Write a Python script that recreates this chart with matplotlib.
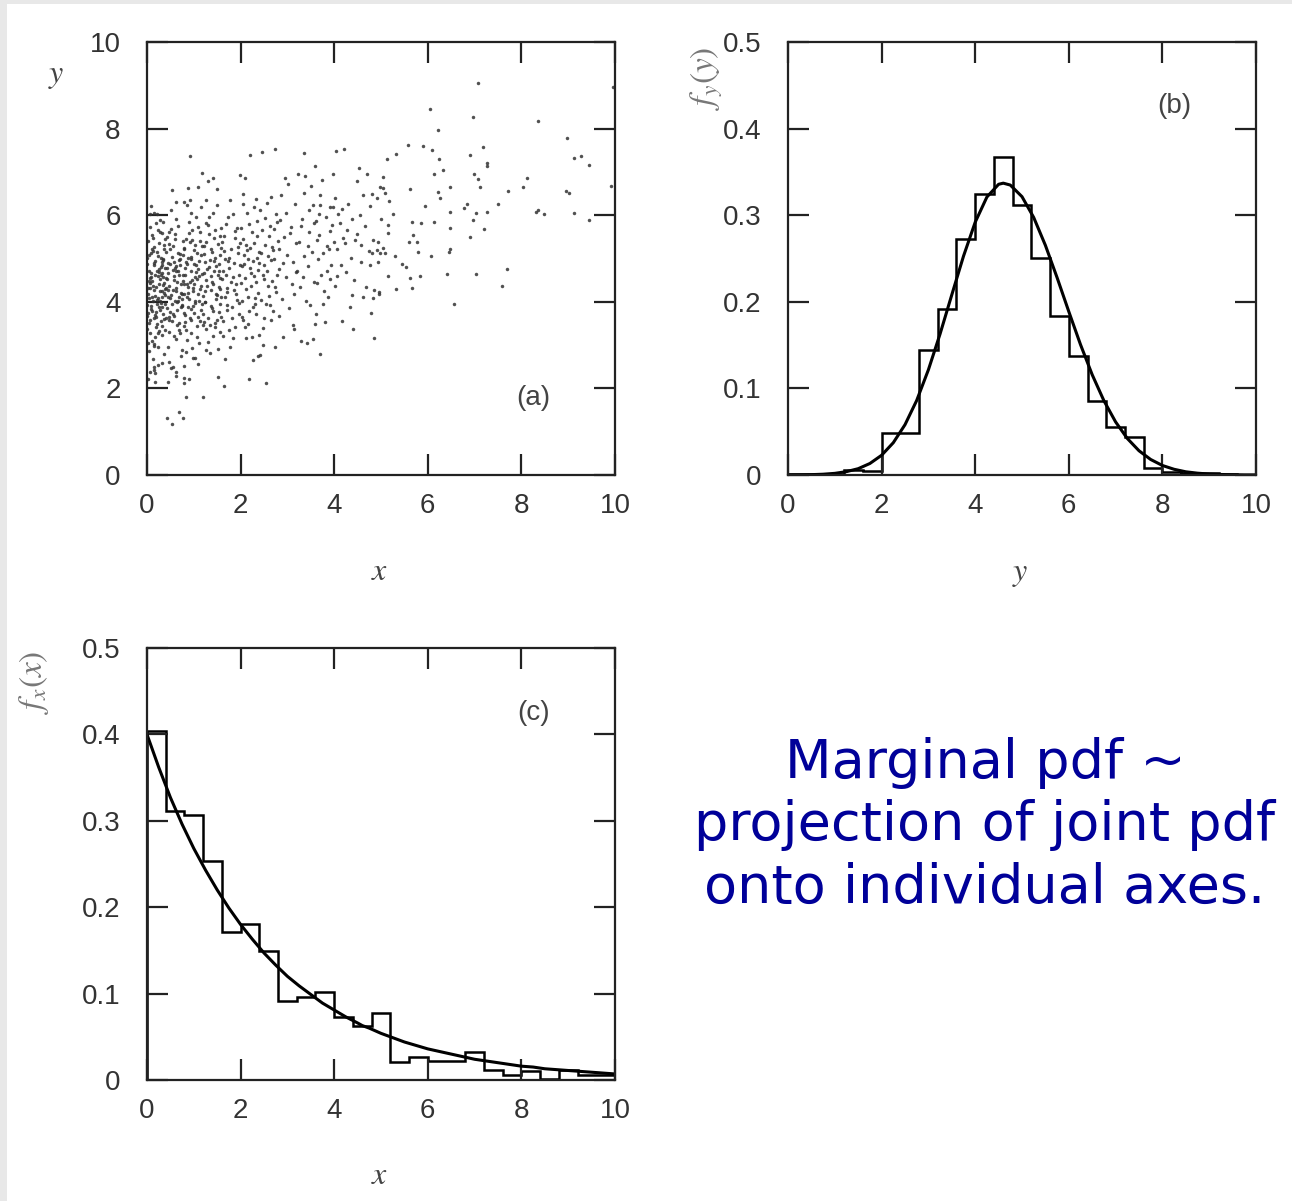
import matplotlib
matplotlib.use("Agg")
import matplotlib.pyplot as plt
from matplotlib.patches import Rectangle

plt.rcParams['font.family'] = ['Liberation Sans', 'DejaVu Sans']
plt.rcParams['mathtext.fontset'] = 'stix'

# ---------------- data ----------------
x_ticks = [0, 2, 4, 6, 8, 10]
x_tick_labels = ['0', '2', '4', '6', '8', '10']
a_y_ticks = [0, 2, 4, 6, 8, 10]
a_y_tick_labels = ['0', '2', '4', '6', '8', '10']
pdf_ticks = [0, 0.1, 0.2, 0.3, 0.4, 0.5]
pdf_tick_labels = ['0', '0.1', '0.2', '0.3', '0.4', '0.5']

hist_edges = [0.0, 0.4, 0.8, 1.2, 1.6, 2.0, 2.4, 2.8, 3.2, 3.6, 4.0, 4.4, 4.8, 5.2,
              5.6, 6.0, 6.4, 6.8, 7.2, 7.6, 8.0, 8.4, 8.8, 9.2, 9.6, 10.0]

fy_hist = [0.001, 0.001, 0.001, 0.006, 0.005, 0.049, 0.049, 0.144, 0.192, 0.272,
           0.324, 0.367, 0.312, 0.250, 0.184, 0.137, 0.085, 0.055, 0.044, 0.008,
           0.003, 0.002, 0.002, 0.001, 0.000]

fx_hist = [0.404, 0.311, 0.307, 0.253, 0.171, 0.181, 0.149, 0.091, 0.096, 0.102,
           0.073, 0.063, 0.078, 0.021, 0.027, 0.022, 0.022, 0.032, 0.012, 0.006,
           0.010, 0.001, 0.011, 0.006, 0.006]

curve_grid = [0.0, 0.25, 0.5, 0.75, 1.0, 1.25, 1.5, 1.75, 2.0, 2.25, 2.5, 2.75, 3.0,
              3.25, 3.5, 3.75, 4.0, 4.25, 4.5, 4.6, 4.75, 5.0, 5.25, 5.5, 5.75, 6.0,
              6.25, 6.5, 6.75, 7.0, 7.25, 7.5, 7.75, 8.0, 8.25, 8.5, 8.75, 9.0,
              9.25, 9.5, 9.75, 10.0]

fy_curve = [0.0001, 0.0002, 0.0004, 0.0009, 0.0019, 0.0039, 0.0073, 0.0133, 0.0228,
            0.0373, 0.0581, 0.0861, 0.1215, 0.163, 0.2081, 0.2527, 0.2919, 0.321,
            0.3357, 0.337, 0.3348, 0.3214, 0.2974, 0.2652, 0.2279, 0.1887, 0.1506,
            0.1158, 0.0858, 0.0613, 0.0422, 0.028, 0.0179, 0.011, 0.0066, 0.0037,
            0.0021, 0.0011, 0.0006, 0.0003, 0.0001, 0.0001]

fx_curve = [0.400, 0.362, 0.327, 0.296, 0.268, 0.243, 0.220, 0.199, 0.180, 0.163,
            0.147, 0.133, 0.120, 0.109, 0.099, 0.089, 0.081, 0.073, 0.066, 0.063,
            0.060, 0.054, 0.049, 0.044, 0.040, 0.036, 0.033, 0.030, 0.027, 0.024,
            0.022, 0.020, 0.018, 0.016, 0.015, 0.013, 0.012, 0.011, 0.010, 0.009,
            0.008, 0.007]

scatter_points = [
    # x in 0 - 0.4
    (0.02,4.31),(0.15,3.62),(0.31,4.85),(0.08,5.12),(0.22,3.95),(0.37,4.44),(0.05,2.86),(0.27,4.02),(0.12,5.48),(0.34,3.71),
    (0.18,4.63),(0.01,3.38),(0.29,5.01),(0.10,4.12),(0.24,3.27),(0.39,4.78),(0.06,4.55),(0.20,5.83),(0.33,3.88),(0.14,4.27),
    (0.03,3.05),(0.26,4.69),(0.36,5.32),(0.09,3.84),(0.17,4.94),(0.32,2.58),(0.04,4.72),(0.21,3.49),(0.38,4.16),(0.11,5.21),
    (0.25,4.40),(0.07,3.57),(0.30,3.98),(0.16,6.05),(0.35,4.58),(0.00,4.88),(0.23,2.95),(0.13,4.36),(0.28,5.61),(0.05,4.08),
    (0.19,3.76),(0.34,4.99),(0.02,5.40),(0.26,3.33),(0.10,4.47),(0.37,3.60),(0.15,2.42),(0.31,4.24),(0.08,3.91),(0.22,5.15),
    (0.01,3.67),(0.29,4.81),(0.12,4.03),(0.39,5.46),(0.18,3.19),(0.06,5.73),(0.24,4.59),(0.33,3.45),(0.14,4.90),(0.03,4.18),
    (0.27,3.82),(0.20,4.34),(0.36,2.79),(0.09,4.66),(0.16,5.27),(0.31,4.11),(0.04,3.52),(0.23,5.05),(0.38,4.29),(0.11,3.10),
    (0.25,4.75),(0.07,4.43),(0.32,5.58),(0.17,3.70),(0.00,3.93),(0.28,4.52),(0.13,2.67),(0.35,4.96),(0.05,5.09),(0.21,4.05),
    (0.19,3.41),(0.30,4.63),(0.02,2.21),(0.26,5.36),(0.10,3.79),(0.37,4.21),(0.15,4.84),(0.08,6.22),(0.33,3.24),(0.22,4.70),
    (0.04,4.49),(0.29,3.56),(0.12,5.17),(0.39,3.96),(0.18,4.14),(0.06,3.29),(0.24,5.66),(0.34,4.38),(0.14,3.02),(0.01,5.00),
    (0.27,4.26),(0.20,3.64),(0.36,5.23),(0.09,4.57),(0.16,2.98),(0.31,4.91),(0.03,3.74),(0.23,4.09),(0.38,3.35),(0.11,5.54),
    (0.25,3.87),(0.07,4.32),(0.32,4.67),
    # x in 0.4 - 0.8
    (0.42,4.52),(0.55,3.71),(0.68,4.96),(0.47,5.33),(0.73,3.88),(0.61,4.25),(0.44,2.95),(0.77,4.61),(0.52,5.68),(0.65,3.47),
    (0.49,4.08),(0.71,5.11),(0.58,3.22),(0.79,4.40),(0.43,4.79),(0.63,5.92),(0.54,3.96),(0.75,4.17),(0.46,3.58),(0.67,4.70),
    (0.59,5.44),(0.41,4.33),(0.72,2.74),(0.50,4.87),(0.64,3.81),(0.78,5.25),(0.45,4.12),(0.57,4.59),(0.69,3.36),(0.53,5.03),
    (0.76,4.48),(0.48,3.65),(0.62,6.31),(0.74,3.93),(0.40,5.16),(0.56,4.28),(0.70,4.84),(0.51,2.48),(0.66,4.03),(0.79,3.74),
    (0.44,4.67),(0.60,5.57),(0.73,4.21),(0.47,3.30),(0.58,4.91),(0.77,5.40),(0.42,3.85),(0.64,4.45),(0.53,6.58),(0.69,3.52),
    (0.55,4.74),(0.75,4.06),(0.49,5.21),(0.62,3.15),(0.41,4.55),(0.71,4.99),(0.57,3.68),(0.67,5.74),(0.46,4.36),(0.78,3.44),
    (0.52,4.15),(0.63,4.82),(0.74,2.88),(0.43,5.49),(0.59,4.02),(0.68,4.63),(0.50,3.77),(0.76,5.07),(0.45,4.27),(0.65,3.99),
    (0.56,5.30),(0.72,4.41),(0.48,2.61),(0.61,4.70),(0.79,4.19),(0.54,3.56),(0.66,5.13),(0.44,4.89),(0.70,3.28),(0.58,4.50),
    (0.51,6.12),(0.75,3.90),(0.63,4.31),(0.47,5.62),(0.69,4.10),(0.41,3.62),(0.60,4.77),
    (0.42,1.31),(0.53,1.17),(0.76,1.31),(0.69,1.46),(0.17,2.14),(0.44,2.15),(0.78,2.13),(0.78,2.23),(0.62,2.29),(0.62,2.37),
    (0.78,2.52),(0.56,2.50),(0.14,2.50),(0.24,2.55),(0.06,2.39),(0.17,2.35),(0.28,5.89),(0.35,5.85),(0.06,6.03),(0.21,6.03),
    # x in 0.8 - 1.2
    (0.83,1.80),(0.90,2.21),(0.92,7.37),(0.88,6.62),(1.08,6.64),(0.99,2.70),(1.03,2.70),(1.17,6.98),(0.80,6.30),(0.86,6.24),
    (0.91,6.36),(1.19,1.79),(0.82,4.63),(0.95,3.84),(1.07,5.12),(0.87,4.21),(1.13,3.56),(1.01,4.88),(0.84,5.46),(1.16,4.37),
    (0.93,3.27),(1.05,4.69),(0.89,5.85),(1.11,4.03),(0.97,4.50),(1.18,5.28),(0.81,3.70),(1.03,3.98),(0.94,5.04),(1.09,4.76),
    (0.86,3.12),(1.14,5.62),(0.99,4.31),(1.06,3.43),(0.83,4.92),(1.19,4.14),(0.92,5.37),(1.02,4.58),(0.88,3.89),(1.12,4.95),
    (0.96,2.94),(1.08,5.73),(0.85,4.40),(1.15,3.81),(1.00,5.19),(0.90,4.07),(1.17,4.64),(0.82,3.53),(1.04,4.85),(0.94,6.06),
    (1.10,3.66),(0.87,5.01),(0.98,4.24),(1.13,5.41),(0.81,4.79),(1.06,3.19),(0.92,4.46),(1.18,3.95),(0.89,5.58),(1.01,3.74),
    (0.95,4.99),(1.14,4.29),(0.84,3.35),(1.07,4.53),(0.97,5.66),(1.11,3.05),(0.86,4.12),(1.03,5.31),(0.91,3.62),(1.16,5.09),
    (0.80,5.22),(1.09,4.17),(0.93,4.71),(1.19,3.47),(0.88,4.34),(1.05,5.95),(0.99,3.91),(1.12,4.60),(0.83,2.84),(1.00,4.41),
    (0.95,3.58),(1.15,6.18),(0.85,4.88),(1.08,2.56),(0.97,5.43),(1.02,4.02),
    # x in 1.2 - 1.6
    (1.30,6.78),(1.40,6.87),(1.49,6.60),(1.27,6.36),(1.49,6.24),(1.27,2.89),(1.35,2.81),(1.52,2.90),(1.51,2.27),(1.22,4.66),
    (1.37,3.91),(1.55,5.08),(1.24,4.25),(1.44,5.47),(1.58,4.12),(1.31,3.63),(1.47,4.83),(1.21,5.29),(1.53,3.77),(1.34,4.97),
    (1.42,4.42),(1.59,5.71),(1.26,3.38),(1.39,5.15),(1.56,4.54),(1.23,3.99),(1.46,3.51),(1.33,5.56),(1.57,4.30),(1.28,4.75),
    (1.41,3.20),(1.54,4.88),(1.25,5.83),(1.48,4.07),(1.36,4.59),(1.20,3.72),(1.51,5.34),(1.38,3.85),(1.45,5.02),(1.29,4.37),
    (1.59,3.66),(1.32,5.95),(1.43,4.71),(1.55,3.30),(1.22,5.10),(1.47,4.18),(1.35,3.46),(1.58,5.24),(1.26,4.51),(1.40,6.06),
    (1.52,4.62),(1.30,3.08),(1.44,4.94),(1.23,4.00),(1.56,5.53),(1.37,4.28),(1.49,3.58),(1.27,5.38),(1.42,3.79),(1.54,4.35),
    (1.33,4.81),(1.21,3.54),(1.46,5.66),(1.39,4.46),(1.57,3.94),(1.24,4.91),(1.50,4.15),(1.31,5.77),(1.45,3.41),(1.36,5.21),
    (1.53,4.72),
    # x in 1.6 - 2.0
    (1.65,2.06),(1.67,2.67),(1.77,2.96),(1.99,6.93),(1.62,4.71),(1.81,3.88),(1.94,5.26),(1.70,4.33),(1.87,5.64),(1.63,3.55),
    (1.76,5.02),(1.91,4.17),(1.68,5.79),(1.84,4.58),(1.97,3.71),(1.73,4.95),(1.61,5.39),(1.89,3.42),(1.79,4.46),(1.95,5.13),
    (1.66,4.10),(1.83,6.02),(1.72,3.80),(1.98,4.84),(1.64,5.52),(1.86,4.28),(1.75,3.34),(1.92,5.70),(1.69,4.62),(1.80,5.21),
    (1.96,3.97),(1.62,3.20),(1.85,4.90),(1.74,5.95),(1.90,4.41),(1.67,4.99),(1.82,3.63),(1.99,5.36),(1.71,4.22),(1.88,5.48),
    (1.60,4.53),(1.78,6.34),(1.93,4.05),(1.65,5.17),(1.84,3.16),(1.76,4.77),(1.97,4.63),(1.70,3.92),
    # x in 2.0 - 2.4
    (2.09,6.85),(2.06,6.49),(2.06,6.27),(2.20,7.40),(2.17,2.22),(2.27,2.66),(2.38,2.75),(2.12,3.16),(2.24,3.18),(2.39,3.23),
    (2.03,4.82),(2.15,4.11),(2.28,5.35),(2.01,5.71),(2.33,4.46),(2.19,3.79),(2.08,5.09),(2.36,5.87),(2.23,4.67),(2.11,4.30),
    (2.31,3.94),(2.05,5.46),(2.26,4.95),(2.14,6.04),(2.37,4.21),(2.02,3.66),(2.21,5.24),(2.34,5.01),(2.10,4.55),(2.29,6.18),
    (2.16,3.48),(2.38,4.74),(2.04,4.03),(2.25,5.62),(2.13,5.19),(2.32,3.71),(2.07,4.88),(2.22,4.36),(2.35,5.53),(2.18,5.80),
    (2.00,4.44),(2.30,4.09),(2.12,5.31),(2.27,3.87),(2.39,5.14),(2.06,3.57),(2.20,4.79),(2.33,6.38),(2.15,4.98),(2.28,4.59),
    (2.10,3.41),
    # x in 2.4 - 2.8
    (2.45,7.46),(2.74,7.52),(2.66,6.41),(2.47,3.00),(2.74,2.96),(2.41,2.76),(2.54,2.12),(2.43,5.12),(2.58,4.37),(2.71,5.68),
    (2.49,4.84),(2.63,3.92),(2.77,4.61),(2.52,5.94),(2.68,5.27),(2.44,4.05),(2.60,5.53),(2.75,4.22),(2.50,3.63),(2.65,4.96),
    (2.79,5.41),(2.56,4.70),(2.42,6.11),(2.70,3.78),(2.53,5.32),(2.67,4.48),(2.48,3.40),(2.78,5.84),(2.61,4.13),(2.46,5.66),
    (2.72,4.99),(2.57,6.28),(2.64,3.57),(2.51,4.53),(2.76,6.02),(2.40,4.89),(2.69,5.19),(2.55,3.96),(2.62,5.75),(2.73,4.35),
    (2.59,5.06),(2.47,4.63),
    # x in 2.8 - 3.2
    (2.86,6.46),(2.95,6.87),(3.02,6.72),(2.91,3.19),(3.16,6.27),(3.15,3.37),(3.11,3.46),(2.83,5.21),(2.98,4.58),(3.07,5.73),
    (2.88,4.07),(3.13,4.92),(2.93,5.49),(3.04,3.85),(2.81,4.76),(3.18,5.36),(2.97,6.04),(3.09,4.41),(2.85,5.90),(3.00,5.08),
    (3.14,4.19),(2.90,4.89),(3.06,5.58),(2.82,3.67),(3.19,4.68),
    # x in 3.2 - 3.6
    (3.23,6.96),(3.38,6.90),(3.36,7.44),(3.35,6.52),(3.50,6.67),(3.55,6.24),(3.59,7.14),(3.30,3.10),(3.41,3.06),(3.54,3.15),
    (3.58,3.48),(3.25,5.37),(3.44,4.82),(3.31,5.91),(3.52,5.14),(3.27,4.35),(3.47,5.62),(3.39,4.03),(3.56,5.83),(3.21,4.71),
    (3.43,5.29),(3.33,4.57),(3.49,3.92),(3.28,5.76),(3.57,4.46),(3.36,5.05),(3.46,6.12),
    # x in 3.6 - 4.0
    (3.73,6.81),(3.70,6.46),(3.70,6.24),(3.90,6.20),(3.97,6.20),(3.97,6.96),(3.70,2.79),(3.80,3.54),(3.63,5.42),(3.85,4.71),
    (3.66,4.98),(3.92,5.63),(3.78,4.26),(3.61,5.87),(3.88,5.21),(3.75,3.95),(3.94,4.84),(3.68,5.55),(3.82,5.96),(3.64,4.44),
    (3.99,5.38),(3.77,5.12),(3.87,4.10),(3.62,3.71),(3.95,5.78),(3.72,4.63),(3.84,5.30),(3.67,6.03),(3.92,4.52),
    # x in 4.0 - 4.4
    (4.04,7.49),(4.21,7.52),(4.02,6.39),(4.30,6.27),(4.16,3.56),(4.07,5.23),(4.25,4.68),(4.12,5.81),(4.35,5.02),(4.01,4.37),
    (4.19,5.47),(4.38,4.15),(4.09,6.02),(4.28,5.66),(4.14,4.84),(4.33,3.88),(4.23,5.35),(4.05,4.59),(4.39,5.91),(4.17,6.14),
    # x in 4.4 - 4.8
    (4.52,7.08),(4.48,6.78),(4.62,6.46),(4.71,6.96),(4.77,6.22),(4.41,3.37),(4.78,3.75),(4.45,5.43),(4.58,4.92),(4.66,5.74),
    (4.43,4.51),(4.74,5.18),(4.55,6.01),(4.69,4.35),(4.49,5.57),(4.61,4.10),(4.76,4.86),(4.57,5.31),
    # x above 4.8
    (7.07,9.06),(9.95,8.95),(6.05,8.45),(6.97,8.26),(8.35,8.18),(6.22,7.97),(8.97,7.79),(5.57,7.61),(5.90,7.60),(6.10,7.51),
    (7.17,7.58),(6.90,7.40),(5.31,7.42),(5.12,7.29),(6.23,7.29),(9.13,7.31),(9.27,7.37),(9.44,7.16),(7.26,7.21),(7.26,7.13),
    (6.33,7.04),(6.14,6.94),(6.99,6.96),(7.08,6.83),(5.05,6.89),(8.11,6.86),(9.91,6.68),(4.98,6.66),(5.05,6.62),(5.09,6.52),
    (4.80,6.49),(4.91,6.39),(5.62,6.60),(6.47,6.66),(7.12,6.66),(6.22,6.53),(6.27,6.39),(7.72,6.56),(8.04,6.66),(8.95,6.56),
    (9.02,6.52),(5.18,6.33),(6.84,6.27),(6.77,6.17),(7.51,6.27),(5.94,6.22),(6.47,6.07),(7.02,6.05),(7.26,6.07),(8.31,6.08),
    (8.36,6.12),(8.48,6.03),(9.13,6.05),(9.44,5.89),(5.25,6.03),(5.01,5.91),(5.16,5.77),(5.67,5.85),(5.85,5.82),(6.14,5.85),
    (6.97,5.89),(6.47,5.70),(7.20,5.68),(6.90,5.49),(5.16,5.58),(5.69,5.54),(5.76,5.37),(5.59,5.39),(4.82,5.43),(4.94,5.39),
    (5.05,5.24),(4.91,5.20),(5.30,5.06),(5.80,5.14),(6.07,5.06),(6.47,5.22),(6.45,5.14),
    (4.80,5.12),(4.98,5.13),(5.09,5.13),(4.94,4.93),(5.44,4.87),(5.53,4.81),(5.16,4.60),(5.61,4.54),(5.83,4.60),(6.42,4.64),
    (7.03,4.64),(7.69,4.76),(7.58,4.36),(5.33,4.29),(5.66,4.33),(4.84,4.27),(4.96,4.23),(4.96,4.17),(4.82,4.08),(6.56,3.94),
    (4.84,3.16),
]
scatter_x = [p[0] for p in scatter_points]
scatter_y = [p[1] for p in scatter_points]

panel_tags = ['(a)', '(b)', '(c)']
note_lines = ['Marginal pdf ~', 'projection of joint pdf', 'onto individual axes.']

# ---------------- figure ----------------
W, H = 1292, 1201
fig = plt.figure(figsize=(W / 100, H / 100), dpi=100)
fig.patch.set_facecolor('#e8e8e8')
fig.add_artist(Rectangle((7 / W, 0), 1 - 7 / W, 1 - 4 / H, transform=fig.transFigure,
                         facecolor='white', edgecolor='none', zorder=-10))


def fx(px):
    return px / W


def fy(py):
    return 1 - py / H


def make_axes(l, t, r, b):
    return fig.add_axes([l / W, 1 - b / H, (r - l) / W, (b - t) / H])


TXT = '#333333'


def style(ax, yticks, ylabels, ymax):
    ax.set_xlim(0, 10)
    ax.set_ylim(0, ymax)
    ax.set_xticks(x_ticks)
    ax.set_xticklabels(x_tick_labels)
    ax.set_yticks(yticks)
    ax.set_yticklabels(ylabels)
    ax.tick_params(direction='in', length=15, width=1.6, top=True, right=True,
                   labelsize=20, color='#222222', labelcolor=TXT)
    ax.tick_params(axis='x', pad=13)
    ax.tick_params(axis='y', pad=19)
    for s in ax.spines.values():
        s.set_linewidth(1.6)
        s.set_color('#222222')


# (a) scatter
ax_a = make_axes(147, 42, 615, 475)
ax_a.plot(scatter_x, scatter_y, 'o', ms=2.5, mew=0, color='#333333', alpha=0.85,
          clip_on=True)
style(ax_a, a_y_ticks, a_y_tick_labels, 10)
ax_a.text(0.826, 0.178, panel_tags[0], transform=ax_a.transAxes, ha='center', va='center',
          fontsize=20, color='#444444')

# (b) marginal of y
ax_b = make_axes(788, 42, 1256, 475)
ax_b.stairs(fy_hist, hist_edges, color='black', lw=1.8, baseline=0)
ax_b.plot(curve_grid, fy_curve, color='black', lw=2.2)
style(ax_b, pdf_ticks, pdf_tick_labels, 0.5)
ax_b.text(0.826, 0.852, panel_tags[1], transform=ax_b.transAxes, ha='center', va='center',
          fontsize=20, color='#444444')

# (c) marginal of x
ax_c = make_axes(147, 648, 615, 1080)
ax_c.stairs(fx_hist, hist_edges, color='black', lw=1.8, baseline=0)
ax_c.plot(curve_grid, fx_curve, color='black', lw=2.2)
style(ax_c, pdf_ticks, pdf_tick_labels, 0.5)
ax_c.text(0.826, 0.85, panel_tags[2], transform=ax_c.transAxes, ha='center', va='center',
          fontsize=20, color='#444444')

# axis labels
fig.text(fx(56), fy(76), r'$y$', fontsize=23, color='#444444', ha='center', va='center')
fig.text(fx(380), fy(572), r'$x$', fontsize=23, color='#444444', ha='center', va='center')
fig.text(fx(707), fy(78), r'$f_y(y)$', fontsize=24, color='#777777', ha='center', va='center',
         rotation=90)
fig.text(fx(1020), fy(574), r'$y$', fontsize=23, color='#444444', ha='center', va='center')
fig.text(fx(34), fy(682), r'$f_x(x)$', fontsize=24, color='#777777', ha='center', va='center',
         rotation=90)
fig.text(fx(380), fy(1176), r'$x$', fontsize=23, color='#444444', ha='center', va='center')

# blue note
for line, base in zip(note_lines, [778, 840, 903]):
    fig.text(fx(985), fy(base), line, fontsize=39, color='#000099', ha='center',
             va='baseline', family='DejaVu Sans')

fig.savefig('out.png', dpi=100, facecolor=fig.get_facecolor())
